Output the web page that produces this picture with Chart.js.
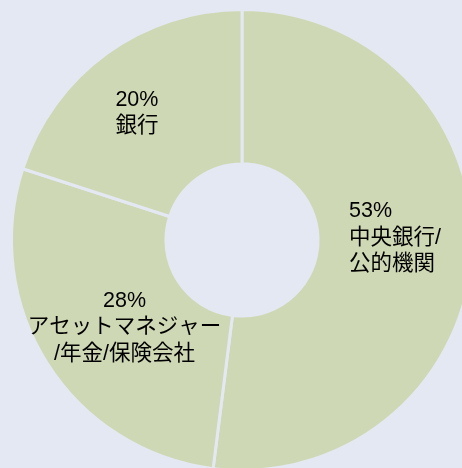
<!DOCTYPE html>
<html>
<head>
<meta charset="utf-8">
<script src="https://cdn.jsdelivr.net/npm/chart.js@4"></script>
<style>
  html, body { margin: 0; padding: 0; background: #e4e8f2; }
  #frame { position: relative; width: 462px; height: 468px; overflow: hidden; }
  #wrap { position: absolute; left: 0; top: 0; width: 484px; height: 480px; }
</style>
</head>
<body>
<div id="frame"><div id="wrap"><canvas id="donut"></canvas></div></div>
<script>
// Holders of assets (share of total)
const categories = ['中央銀行/公的機関', 'アセットマネジャー/年金/保険会社', '銀行'];
const shares = [52, 28, 20];
const pctLabels = ['53%', '28%', '20%'];
// how each label is split into lines
const labelLines = [
    ['中央銀行/', '公的機関'],
    ['アセットマネジャー', '/年金/保険会社'],
    ['銀行']
];

const bg = '#e4e8f2';
const sliceColor = '#cfd8b4';
const labelFont = '21.5px "Liberation Sans", "Noto Sans CJK JP", sans-serif';

// text placement tweaks per slice: alignment and nudge from the arc centroid
const labelAlign = ['left', 'center', 'left'];
const labelNudge = [[0, -12], [12, 5], [-15, -3]];

const sliceLabels = {
    id: 'sliceLabels',
    afterDatasetsDraw(chart) {
        const ctx = chart.ctx;
        const arcs = chart.getDatasetMeta(0).data;
        ctx.save();
        ctx.font = labelFont;
        ctx.fillStyle = '#000';
        ctx.textBaseline = 'middle';
        const lineH = 26.5;
        arcs.forEach((arc, i) => {
            const p = arc.getProps(['x', 'y', 'startAngle', 'endAngle', 'innerRadius', 'outerRadius']);
            const mid = (p.startAngle + p.endAngle) / 2;
            const r = (p.innerRadius + p.outerRadius) / 2;
            const cx = p.x + Math.cos(mid) * r + labelNudge[i][0];
            const cy = p.y + Math.sin(mid) * r + labelNudge[i][1];
            const lines = [pctLabels[i]].concat(labelLines[i]);
            const widths = lines.map(t => ctx.measureText(t).width);
            const blockW = Math.max(...widths);
            let y = cy - (lines.length - 1) * lineH / 2;
            lines.forEach((t) => {
                if (labelAlign[i] === 'left') {
                    ctx.textAlign = 'left';
                    ctx.fillText(t, cx - blockW / 2, y);
                } else {
                    ctx.textAlign = 'center';
                    ctx.fillText(t, cx, y);
                }
                y += lineH;
            });
        });
        ctx.restore();
    }
};

const ctx = document.getElementById('donut').getContext('2d');
const donut = new Chart(ctx, {
    type: 'doughnut',
    data: {
        labels: categories,
        datasets: [{
            data: shares,
            backgroundColor: sliceColor,
            borderColor: bg,
            borderWidth: 3,
            hoverOffset: 0
        }]
    },
    options: {
        responsive: true,
        maintainAspectRatio: false,
        animation: false,
        cutout: '33%',
        layout: { padding: { left: 10, right: 10, top: 8, bottom: 8 } },
        plugins: {
            legend: { display: false },
            tooltip: { enabled: false }
        }
    },
    plugins: [sliceLabels]
});
</script>
</body>
</html>
